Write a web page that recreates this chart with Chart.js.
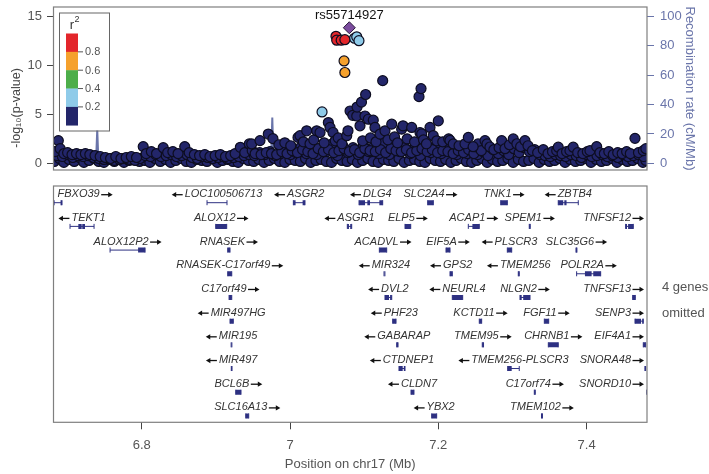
<!DOCTYPE html>
<html><head><meta charset="utf-8">
<script src="https://cdn.jsdelivr.net/npm/chart.js@4.4.1/dist/chart.umd.min.js"></script>
<style>
html,body{margin:0;padding:0;background:#fff;width:709px;height:474px;overflow:hidden}
#top{position:absolute;left:0;top:0;width:709px;height:180px}
#bot{position:absolute;left:0;top:180px;width:709px;height:294px}
</style></head><body>
<div id="top"><canvas id="c1"></canvas></div>
<div id="bot"><canvas id="c2"></canvas></div>
<script>
// ---------------- DATA ----------------
const leadName = 'rs55714927';
const leadPos = [7.080];
const leadLogP = [13.82];

const redPos = [7.062, 7.063, 7.069, 7.074];
const redLogP = [12.95, 12.55, 12.55, 12.6];
const orangePos = [7.0729, 7.074];
const orangeLogP = [10.44, 9.26];
const lightbluePos = [7.0432, 7.087, 7.090, 7.093];
const lightblueLogP = [5.24, 12.75, 12.9, 12.5];

// navy (r2 < 0.2): low band
const lowPos = [
 6.682,6.689,6.695,6.702,6.709,6.716,6.722,6.729,6.736,6.742,6.749,6.756,6.763,6.770,6.776,6.783,6.790,6.797,
 6.804,6.811,6.818,6.825,6.832,6.839,6.846,6.853,6.860,6.867,6.874,6.881,6.888,6.895,6.902,6.909,6.916,6.923,6.930,6.937,6.944,
 6.951,6.958,6.965,6.972,6.979,6.986,6.993,7.000,7.007,7.014,7.021,7.028,7.035,7.042,7.049,7.056,7.063,7.070,7.077,7.084,7.091,7.098,7.105,7.112,7.119,7.126,7.133,7.140,7.147,7.154,7.161,7.168,7.175,7.182,7.189,7.196,7.203,7.210,7.217,7.224,7.231,7.238,7.245,
 7.252,7.259,7.266,7.273,7.280,7.287,7.294,7.301,7.308,7.315,7.322,7.329,7.336,7.343,7.350,7.357,7.364,7.371,7.378,7.385,7.392,7.399,7.406,7.413,7.420,7.427,7.434,7.441,7.448,7.455,7.462,7.469,7.476,7.480];
const lowLogP = [
 0.2,0.5,0.1,0.4,0.2,0.6,0.1,0.3,0.5,0.2,0.1,0.4,0.2,0.5,0.1,0.3,0.6,0.2,
 0.3,0.1,0.5,0.2,0.4,0.1,0.3,0.5,0.2,0.1,0.4,0.3,0.2,0.5,0.1,0.3,0.4,0.2,0.1,0.5,0.3,
 0.2,0.4,0.1,0.3,0.5,0.2,0.1,0.4,0.3,0.2,0.5,0.1,0.3,0.4,0.2,0.1,0.5,0.3,0.2,0.4,0.1,0.3,0.5,0.2,0.1,0.4,0.3,0.2,0.5,0.1,0.3,0.4,0.2,0.1,0.5,0.3,0.2,0.4,0.1,0.3,0.5,0.2,0.1,
 0.3,0.5,0.1,0.4,0.2,0.3,0.5,0.1,0.4,0.2,0.3,0.5,0.1,0.4,0.2,0.3,0.5,0.1,0.4,0.2,0.3,0.5,0.1,0.4,0.2,0.3,0.5,0.1,0.4,0.2,0.3,0.5,0.1,0.3];
// navy: filler between the low band and its upper edge
const fillPos = [
 6.686,6.693,6.700,6.707,6.714,6.721,6.728,6.735,
 6.742,6.749,6.756,6.763,6.770,6.777,6.784,6.791,6.798,
 6.805,6.812,6.819,6.826,6.833,6.840,6.847,6.854,6.861,
 6.868,6.875,6.882,6.889,6.896,6.903,6.910,6.917,6.924,6.931,6.938,6.945,
 6.952,6.959,6.966,6.973,6.980,6.987,6.994,7.001,7.008,7.015,7.022,7.029,7.036,7.043,7.050,7.057,7.064,7.071,7.078,7.085,7.092,7.099,7.106,7.113,7.120,7.127,7.134,7.141,7.148,7.155,7.162,7.169,7.176,7.183,7.190,7.197,7.204,7.211,7.218,7.225,7.232,7.239,7.246,
 7.253,7.260,7.267,7.274,7.281,7.288,7.295,7.302,7.309,7.316,7.323,7.330,7.337,7.344,7.351,7.358,7.365,7.372,7.379,7.386,7.393,7.400,7.407,7.414,7.421,7.428,7.435,7.442,7.449,7.456,7.463,7.470,7.477];
const fillLogP = [
 0.8,0.7,0.9,0.6,0.8,0.7,0.8,0.6,
 0.5,0.4,0.5,0.3,0.4,0.5,0.4,0.3,0.5,
 0.8,0.7,0.9,0.7,0.8,0.9,0.7,0.8,0.9,
 0.6,0.5,0.7,0.6,0.5,0.6,0.7,0.5,0.6,0.7,0.8,0.9,
 0.8,1.1,0.9,1.2,0.8,1.0,1.3,0.9,1.1,1.7,1.0,1.9,0.9,1.6,1.2,2.0,0.8,1.8,1.1,1.6,0.9,1.9,1.2,1.7,1.0,2.1,0.9,1.8,1.2,1.6,1.0,1.9,0.8,1.7,1.1,1.8,1.0,1.6,1.2,0.9,1.5,1.0,1.3,
 0.9,1.2,0.8,1.4,1.0,1.3,0.9,1.5,1.1,1.6,1.2,1.4,0.9,0.8,0.7,0.9,0.8,0.7,0.9,0.8,0.6,0.9,0.7,0.8,0.9,0.7,0.8,0.6,0.9,0.7,0.8,0.9,0.7];
// navy: upper edge of the band
const midPos = [
 6.683,6.6875,6.690,6.695,6.700,6.706,6.712,6.718,6.724,6.730,6.737,6.744,6.751,6.758,6.765,6.772,6.779,6.786,6.793,
 6.802,6.806,6.813,6.820,6.829,6.835,6.842,6.849,6.858,6.864,6.871,6.878,6.885,6.892,6.899,6.906,6.913,6.920,6.926,6.933,6.939,6.945,6.949,
 6.953,6.961,6.968,6.975,6.982,6.989,6.996,7.003,7.010,7.017,7.024,7.031,7.038,7.045,7.052,7.059,7.066,7.073,7.080,7.087,7.094,7.101,7.108,7.115,7.122,7.129,7.136,7.143,7.150,7.157,7.164,7.171,7.178,7.185,7.192,7.199,7.206,7.213,7.220,7.227,7.234,7.241,7.248,
 7.2518,7.2536,7.258,7.263,7.2657,7.2697,7.275,7.282,7.2855,7.290,7.296,7.3011,7.306,7.311,7.3169,7.321,7.327,7.334,7.3416,7.348,7.354,7.3597,7.3618,7.367,7.373,7.3776,7.382,7.388,7.395,7.401,7.4046,7.4136,7.418,7.424,7.430,7.436,7.442,7.448,7.454,7.459,7.4653,7.470,7.4765,7.480];
const midLogP = [
 1.2,2.32,1.5,1.0,1.1,0.9,1.0,0.9,1.0,0.9,0.8,0.7,0.6,0.5,0.7,0.5,0.6,0.7,0.6,
 1.71,1.0,1.2,1.0,1.6,1.1,1.2,1.0,1.71,1.1,0.9,0.8,0.9,0.7,0.8,0.9,0.7,0.8,1.0,1.64,1.1,1.98,1.3,
 1.0,0.9,1.1,1.0,0.9,1.2,1.0,1.3,1.1,1.4,1.2,1.0,1.5,1.2,1.4,1.1,1.3,1.5,1.2,1.4,1.1,1.5,1.3,1.2,1.4,1.1,1.5,1.3,1.2,1.4,1.1,1.3,1.5,1.2,1.4,1.1,1.3,1.2,1.0,1.3,1.1,1.4,1.0,
 1.67,1.98,1.3,2.32,1.98,1.67,1.4,1.6,2.32,1.5,1.9,2.49,2.0,1.7,2.32,1.8,1.3,1.1,1.4,1.0,1.2,1.3,1.65,1.0,1.2,1.3,1.65,1.1,1.0,1.2,1.3,1.71,1.1,1.0,1.2,0.9,1.1,1.0,1.2,1.0,2.55,1.1,1.3,1.5];
// navy: elevated points around the peak
const peakPos = [6.9483,6.9595,6.9707,6.977,6.985,6.993,7.001,7.0108,7.0135,7.018,
 7.0225,7.027,7.032,7.036,7.0405,7.046,7.0517,7.054,7.058,7.061,
 7.0651,7.070,7.0765,7.0782,7.081,7.0846,7.090,7.0904,7.0944,7.0964,
 7.098,7.1011,7.102,7.1056,7.1085,7.1123,7.1146,7.116,7.1214,7.125,
 7.1281,7.132,7.1372,7.141,7.145,7.1506,7.1524,7.158,7.1641,7.168,
 7.174,7.1753,7.1767,7.1776,7.180,7.184,7.1888,7.1932,7.198,7.200,
 7.206,7.214,7.2158,7.2202,7.228,7.236,7.2405,7.247];
const peakLogP = [1.98,2.32,2.99,2.52,1.9,2.1,1.8,2.65,2.82,2.2,
 3.32,2.0,2.4,3.32,3.15,2.1,4.16,3.66,3.15,2.3,
 2.59,2.0,2.82,3.32,5.34,4.9,4.83,5.74,3.83,6.24,
 2.3,4.83,7.02,4.5,2.6,4.40,3.66,2.2,2.99,8.43,
 3.32,2.4,4.0,2.7,2.1,3.49,3.83,2.5,3.66,2.2,
 6.80,3.15,7.62,3.0,2.4,2.0,3.66,2.82,2.3,4.33,
 2.2,2.5,2.34,1.98,1.8,2.0,2.65,1.7];

const recombPos = [6.681,6.700,6.720,6.7385,6.7400,6.7415,6.760,6.790,6.830,6.870,6.910,6.945,6.9745,6.9761,6.9777,7.000,7.030,7.060,7.090,7.120,7.150,7.180,7.210,7.240,7.270,7.300,7.330,7.360,7.390,7.420,7.450,7.4815];
const recombRate = [1.5,2.5,1.2,3,22.8,2.5,1.0,2.0,0.8,1.5,2.2,1.0,3.5,31.2,2.5,1.8,4.0,2.5,6.0,3.0,2.0,5.0,1.5,3.0,2.0,4.0,1.5,2.5,1.0,3.0,1.5,2.0];

const pTicks = [0, 5, 10, 15];
const recTicks = [0, 20, 40, 60, 80, 100];
const posTicks = [6.8, 7.0, 7.2, 7.4];
const posTickLabels = ['6.8', '7', '7.2', '7.4'];
const r2Breaks = ['0.8', '0.6', '0.4', '0.2'];
const omittedNote = ['4 genes', 'omitted'];

const geneName = ['FBXO39','TEKT1','ALOX12P2','LOC100506713','ALOX12','RNASEK','RNASEK-C17orf49','C17orf49','MIR497HG','MIR195','MIR497','BCL6B','SLC16A13',
 'ASGR2','DLG4','SLC2A4','ASGR1','ELP5','ACAP1','ACADVL','EIF5A','MIR324','GPS2','DVL2','NEURL4','PHF23','KCTD11','GABARAP','TMEM95','CTDNEP1','TMEM256-PLSCR3','CLDN7','YBX2',
 'TNK1','ZBTB4','SPEM1','TNFSF12','PLSCR3','SLC35G6','TMEM256','POLR2A','NLGN2','TNFSF13','FGF11','SENP3','CHRNB1','EIF4A1','SNORA48','C17orf74','SNORD10','TMEM102'];
const geneRow = [1,2,3,1,2,3,4,5,6,7,8,9,10,
 1,1,1,2,2,2,3,3,4,4,5,5,6,6,7,7,8,8,9,10,
 1,1,2,2,3,3,4,4,5,5,6,6,7,7,8,9,9,10];
const geneStrand = [1,-1,1,-1,1,1,1,1,-1,-1,-1,1,1,
 -1,-1,1,-1,1,1,1,1,-1,-1,-1,-1,-1,1,-1,1,-1,-1,-1,-1,
 1,-1,1,1,-1,1,-1,1,1,1,1,1,1,1,1,1,1,1];
const geneStart = [6.6805,6.7033,6.7573,6.8881,6.8998,6.9160,6.9160,6.9178,6.9191,6.9206,6.9208,6.9268,6.9403,
 7.0045,7.0931,7.1857,7.0773,7.1551,7.2405,7.1205,7.2104,7.1268,7.2158,7.1281,7.2189,7.1385,7.2553,7.1439,7.2593,7.1470,7.2936,7.1632,7.1911,
 7.2842,7.3618,7.3227,7.4527,7.2931,7.3857,7.3079,7.3866,7.3102,7.4622,7.3430,7.4653,7.3484,7.4765,7.4787,7.3295,7.4812,7.3392];
const geneEnd = [6.6925,6.7357,6.8045,6.9150,6.9146,6.9191,6.9214,6.9214,6.9235,6.9216,6.9218,6.9339,6.9443,
 7.0202,7.1250,7.1933,7.0832,7.1628,7.2553,7.1304,7.2158,7.1280,7.2189,7.1372,7.2329,7.1430,7.2585,7.1457,7.2610,7.1551,7.3092,7.1672,7.1978,
 7.2931,7.3888,7.3240,7.4630,7.2990,7.3870,7.3092,7.4190,7.3237,7.4657,7.3489,7.4765,7.3618,7.4797,7.4797,7.3308,7.4822,7.3405];
const exonStart = [6.6805,6.6905,6.7145,6.7198,6.7951,6.8998,6.9160,6.9160,6.9178,6.9191,6.9206,6.9208,6.9268,6.9403,
 7.0045,7.0170,7.0931,7.1043,7.1205,7.1857,7.0773,7.0812,7.1551,7.2460,7.1205,7.2104,7.1268,7.2158,7.1281,7.1350,7.2189,7.1385,7.2553,7.1439,7.2593,7.1470,7.1535,7.2936,7.1632,7.1911,
 7.2842,7.3618,7.3700,7.3227,7.4527,7.4560,7.2931,7.3857,7.3079,7.3978,7.4090,7.3102,7.3145,7.4622,7.3430,7.4653,7.4750,7.3484,7.4765,7.4787,7.3295,7.4812,7.3392];
const exonEnd = [6.6825,6.6925,6.7190,6.7235,6.8045,6.9146,6.9191,6.9214,6.9214,6.9235,6.9216,6.9218,6.9339,6.9443,
 7.0075,7.0202,7.1012,7.1079,7.1250,7.1933,7.0795,7.0832,7.1628,7.2553,7.1304,7.2158,7.1280,7.2189,7.1335,7.1372,7.2329,7.1430,7.2585,7.1457,7.2610,7.1520,7.1551,7.2990,7.1672,7.1978,
 7.2931,7.3685,7.3730,7.3240,7.4545,7.4630,7.2990,7.3870,7.3092,7.4068,7.4190,7.3125,7.3237,7.4657,7.3489,7.4735,7.4765,7.3618,7.4797,7.4797,7.3308,7.4822,7.3405];
const exonRow = [1,1,2,2,3,2,3,4,5,6,7,8,9,10,
 1,1,1,1,1,1,2,2,2,2,3,3,4,4,5,5,5,6,6,7,7,8,8,8,9,10,
 1,1,1,2,2,2,3,3,4,4,4,5,5,5,6,6,6,7,7,8,9,9,10];

// ---------------- STYLE / LAYOUT ----------------
const FONT = '"Liberation Sans", Arial, Helvetica, sans-serif';
Chart.defaults.font.family = FONT;
Chart.defaults.color = '#555';
const X_MIN = 6.681, X_MAX = 7.4815;
const NAVY = '#23266a', EDGE = '#0d0d20';
const C_RED = '#e3262b', C_ORANGE = '#f5a12d', C_GREEN = '#4dae4a', C_LBLUE = '#8fcbe9', C_PURPLE = '#7b4c9e';
const REC_COL = '#6a75aa';
const GENE_COL = '#2e3182';

function pts(xs, ys) { return xs.map((x, i) => ({x: x, y: ys[i]})); }
function segs(s, e, r) {
  const out = [];
  s.forEach((v, i) => { out.push({x: v, y: r[i]}, {x: e[i], y: r[i]}, {x: e[i], y: null}); });
  return out;
}
const navyData = pts(lowPos, lowLogP).concat(pts(fillPos, fillLogP), pts(midPos, midLogP), pts(peakPos, peakLogP));

function frame(ctx, ca) {
  ctx.strokeStyle = '#7f7f7f'; ctx.lineWidth = 1.2;
  ctx.strokeRect(ca.left, ca.top, ca.right - ca.left, ca.bottom - ca.top);
}
function noPad(s) { s.paddingTop = 0; s.paddingBottom = 0; }

function arrow(ctx, x0, x1, y) {
  const dir = x1 > x0 ? 1 : -1;
  ctx.beginPath(); ctx.moveTo(x0, y); ctx.lineTo(x1 - dir * 3.5, y); ctx.stroke();
  ctx.beginPath(); ctx.moveTo(x1, y); ctx.lineTo(x1 - dir * 4.5, y - 2.6); ctx.lineTo(x1 - dir * 4.5, y + 2.6);
  ctx.closePath(); ctx.fill();
}

const topDecor = {
  id: 'topDecor',
  afterDraw(chart) {
    const {ctx, chartArea: ca, scales} = chart;
    ctx.save();
    frame(ctx, ca);
    // lead SNP label
    const lx = scales.x.getPixelForValue(leadPos[0]);
    const ly = scales.y.getPixelForValue(leadLogP[0]);
    ctx.fillStyle = '#111'; ctx.font = '13px ' + FONT;
    ctx.textAlign = 'center'; ctx.textBaseline = 'middle';
    ctx.fillText(leadName, lx, ly - 12);
    // left axis title
    ctx.save();
    ctx.translate(ca.left - 36.5, scales.y.getPixelForValue(5.65));
    ctx.rotate(-Math.PI / 2);
    ctx.fillStyle = '#444'; ctx.font = '12.5px ' + FONT;
    ctx.fillText('-log\u2081\u2080(p-value)', 0, 0);
    ctx.restore();
    // r2 legend
    const bx = ca.left + 5.5, by = ca.top + 5.5, bw = 50, bh = 118;
    ctx.fillStyle = '#fff'; ctx.fillRect(bx, by, bw, bh);
    ctx.strokeStyle = '#666'; ctx.lineWidth = 1; ctx.strokeRect(bx + 0.5, by + 0.5, bw, bh);
    ctx.fillStyle = '#333'; ctx.font = '13px ' + FONT; ctx.textAlign = 'center';
    ctx.fillText('r', bx + 13, by + 12.5);
    ctx.font = '9px ' + FONT; ctx.fillText('2', bx + 18, by + 7.5);
    const cols = [C_RED, C_ORANGE, C_GREEN, C_LBLUE, NAVY];
    const barX = bx + 7, barW = 12, barY = by + 21, segH = 18.35;
    cols.forEach((c, i) => { ctx.fillStyle = c; ctx.fillRect(barX, barY + i * segH, barW, segH + 0.3); });
    ctx.strokeStyle = '#555'; ctx.fillStyle = '#555'; ctx.font = '11px ' + FONT;
    ctx.textAlign = 'left'; ctx.textBaseline = 'middle';
    r2Breaks.forEach((t, i) => {
      const yy = barY + (i + 1) * segH;
      ctx.beginPath(); ctx.moveTo(barX + barW, yy); ctx.lineTo(barX + barW + 5, yy); ctx.stroke();
      ctx.fillText(t, barX + barW + 7, yy + 0.5);
    });
    ctx.restore();
  }
};

const geneDecor = {
  id: 'geneDecor',
  afterDraw(chart) {
    const {ctx, chartArea: ca, scales: {x, y}} = chart;
    ctx.save();
    frame(ctx, ca);
    ctx.font = 'italic 11px ' + FONT;
    ctx.textBaseline = 'middle'; ctx.textAlign = 'left';
    ctx.lineWidth = 1.3;
    const AW = 13;
    geneName.forEach((n, i) => {
      const wn = ctx.measureText(n).width;
      const w = wn + AW;
      const cx = (x.getPixelForValue(geneStart[i]) + x.getPixelForValue(geneEnd[i])) / 2;
      let l = cx - w / 2;
      if (l < ca.left + 4) l = ca.left + 4;
      if (l + w > ca.right - 3) l = ca.right - 3 - w;
      const yy = y.getPixelForValue(geneRow[i]) - 8.5;
      ctx.fillStyle = '#333';
      ctx.strokeStyle = '#111';
      if (geneStrand[i] > 0) {
        ctx.fillText(n, l, yy);
        ctx.fillStyle = '#111';
        arrow(ctx, l + wn + 1.5, l + w, yy + 0.5);
      } else {
        ctx.fillText(n, l + AW, yy);
        ctx.fillStyle = '#111';
        arrow(ctx, l + AW - 2, l, yy + 0.5);
      }
    });
    ctx.font = '13px ' + FONT; ctx.fillStyle = '#555';
    ctx.fillText(omittedNote[0], ca.right + 15, ca.top + 101);
    ctx.fillText(omittedNote[1], ca.right + 15, ca.top + 127);
    ctx.restore();
  }
};

const circ = (data, fill, order) => ({
  data: data, backgroundColor: fill, borderColor: EDGE, borderWidth: 1.2,
  pointRadius: 5, pointHoverRadius: 5, order: order, yAxisID: 'y'
});

new Chart(document.getElementById('c1'), {
  type: 'scatter',
  data: { datasets: [
    { data: pts(leadPos, leadLogP), pointStyle: 'rectRot', pointRadius: 6, backgroundColor: C_PURPLE,
      borderColor: '#2a1a3a', borderWidth: 1, order: 0, yAxisID: 'y' },
    circ(pts(redPos, redLogP), C_RED, 1),
    circ(pts(orangePos, orangeLogP), C_ORANGE, 2),
    circ(pts(lightbluePos, lightblueLogP), C_LBLUE, 3),
    circ(navyData, NAVY, 5),
    { type: 'line', data: pts(recombPos, recombRate), yAxisID: 'y2', borderColor: REC_COL,
      borderWidth: 2, pointRadius: 0, tension: 0, fill: false, order: 10 }
  ]},
  options: {
    animation: false, responsive: true, maintainAspectRatio: false,
    layout: { padding: { top: 4.7, bottom: 10, left: 0, right: 0 } },
    plugins: { legend: { display: false }, tooltip: { enabled: false } },
    scales: {
      x: { type: 'linear', min: X_MIN, max: X_MAX, display: false },
      y: { type: 'linear', position: 'left', min: -0.673, max: 15.934,
        afterFit: s => { s.width = 53.5; noPad(s); },
        afterBuildTicks: s => { s.ticks = pTicks.map(v => ({value: v})); },
        grid: { drawOnChartArea: false, tickLength: 6.5, color: '#444' },
        border: { display: false },
        ticks: { color: '#555', font: { size: 13 }, padding: 5, callback: v => String(v) } },
      y2: { type: 'linear', position: 'right', min: -4.49, max: 106.2,
        afterFit: s => { s.width = 62; noPad(s); },
        afterBuildTicks: s => { s.ticks = recTicks.map(v => ({value: v})); },
        grid: { drawOnChartArea: false, tickLength: 7, color: REC_COL },
        border: { display: false },
        ticks: { color: REC_COL, font: { size: 13 }, padding: 6, callback: v => String(v) },
        title: { display: true, text: 'Recombination rate (cM/Mb)', color: REC_COL,
          font: { size: 13 }, padding: { top: 12, bottom: 0 } } }
    }
  },
  plugins: [topDecor]
});

new Chart(document.getElementById('c2'), {
  type: 'line',
  data: { datasets: [
    { data: segs(geneStart, geneEnd, geneRow), borderColor: GENE_COL, borderWidth: 1,
      pointStyle: 'line', pointRotation: 90, pointRadius: 2.5, pointBorderColor: GENE_COL,
      pointBorderWidth: 1, spanGaps: false, tension: 0 },
    { data: segs(exonStart, exonEnd, exonRow), borderColor: GENE_COL, borderWidth: 5,
      borderCapStyle: 'butt', pointRadius: 0, spanGaps: false, tension: 0 }
  ]},
  options: {
    animation: false, responsive: true, maintainAspectRatio: false,
    layout: { padding: { top: 6, left: 53.5, right: 62, bottom: 0 } },
    plugins: { legend: { display: false }, tooltip: { enabled: false } },
    scales: {
      x: { type: 'linear', min: X_MIN, max: X_MAX,
        afterFit: s => { s.height = 51.7; s.paddingLeft = 0; s.paddingRight = 0; },
        afterBuildTicks: s => { s.ticks = posTicks.map(v => ({value: v})); },
        grid: { drawOnChartArea: false, tickLength: 7, color: '#444' },
        border: { display: false },
        ticks: { color: '#555', font: { size: 13 }, padding: 8, maxRotation: 0, autoSkip: false,
          callback: (v, i) => posTickLabels[i] },
        title: { display: true, text: 'Position on chr17 (Mb)', color: '#555',
          font: { size: 13 }, padding: { top: 0, bottom: 2 } } },
      y: { type: 'linear', display: false, reverse: true, min: 0.295, max: 10.27 }
    }
  },
  plugins: [geneDecor]
});
</script></body></html>
